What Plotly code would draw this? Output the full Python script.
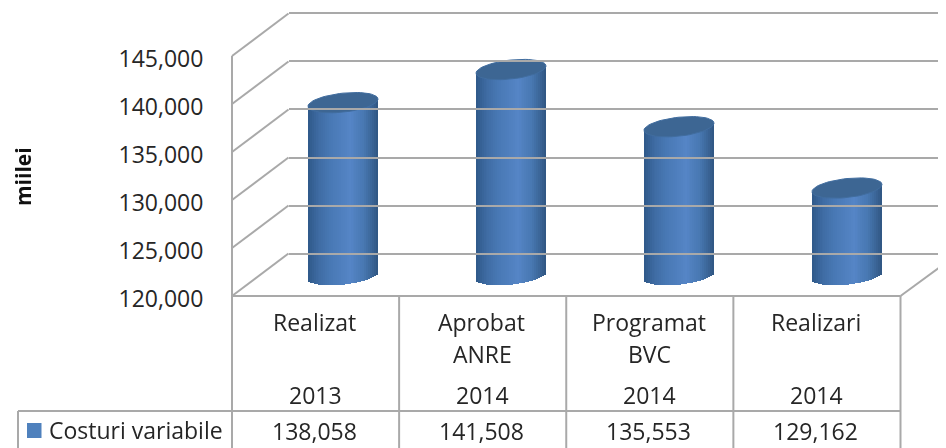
import math
import plotly.graph_objects as go

W, H = 946, 448
PAGE = 8  # default page margin around the figure
line1 = ["Realizat", "Aprobat", "Programat", "Realizari"]
line2 = ["", "ANRE", "BVC", ""]
years = ["2013", "2014", "2014", "2014"]
values = [138058, 141508, 135553, 129162]
series_name = "Costuri variabile"
axis_title = "miilei"
y_ticks = [120000, 125000, 130000, 135000, 140000, 145000]

GREY = "#a9a9a9"
TXT = "#262626"
FONT = "Open Sans"
FS = 23
FW, FH = W - PAGE, H - PAGE

def px(x): return (x - PAGE) / FW
def py(y): return 1 - (y - PAGE) / FH

PX_PER_UNIT = (296 - 56) / 25000
COL_W = (900.5 - 232) / 4
ymin, ymax = y_ticks[0], y_ticks[-1]

# colour ramp for the cylinder shading
RAMP = [(0, (46, 88, 136)), (.12, (60, 104, 158)), (.32, (72, 120, 180)), (.6, (85, 133, 198)),
        (.8, (72, 120, 178)), (.92, (58, 100, 150)), (1, (47, 86, 130))]
def ramp(t):
    for (a, ca), (b, cb) in zip(RAMP, RAMP[1:]):
        if t <= b:
            f = (t - a) / (b - a)
            return "rgb(%d,%d,%d)" % tuple(round(p + (q - p) * f) for p, q in zip(ca, cb))
    return "rgb(47,86,130)"

fig = go.Figure()

# front plane: real value axis
fig.add_trace(go.Scatter(x=list(range(4)), y=values, mode="markers", opacity=0, xaxis="x", yaxis="y",
                         showlegend=False, hoverinfo="skip"))
# back wall: gridlines
fig.add_trace(go.Scatter(x=list(range(4)), y=values, mode="markers", opacity=0, xaxis="x3", yaxis="y3",
                         showlegend=False, hoverinfo="skip"))

# middle plane: full-canvas axes holding the cylinders
CX0, BASE_PX = 343.0, 276.0
K = 1 / PX_PER_UNIT
x_unit = 1 / 168.0
x2_range = [(PAGE - CX0) * x_unit, (W - CX0) * x_unit]
y2_range = [ymin + (BASE_PX - H) * K, ymin + (BASE_PX - PAGE) * K]

RX, RY_TOP, RY_BOTTOM, TILT = 35.0, 9.5, 8.6, 3.6
N = 36
sw = 2 * RX / N
xs, base, hts, cols, widths = [], [], [], [], []
for i, v in enumerate(values):
    for k in range(N):
        u = -1 + (k + .5) * 2 / N
        low = (-TILT * u + RY_BOTTOM * math.sqrt(1 - u * u)) * K
        b = ymin - low
        top = v + TILT * u * K
        xs.append(i + u * RX * x_unit)
        base.append(b)
        hts.append(top - b)
        cols.append(ramp((u + 1) / 2))
        widths.append((sw + .4) * x_unit)
fig.add_trace(go.Bar(x=xs, y=hts, base=base, width=widths, marker=dict(color=cols, line_width=0),
                     xaxis="x2", yaxis="y2", showlegend=False, hoverinfo="skip"))

for i, v in enumerate(values):
    ex, ey = [], []
    for j in range(61):
        t = 2 * math.pi * j / 60
        ex.append(i + RX * math.cos(t) * x_unit)
        ey.append(v + (TILT * math.cos(t) + RY_TOP * math.sin(t)) * K)
    fig.add_trace(go.Scatter(x=ex, y=ey, mode="lines", fill="toself", fillcolor="#3d6693",
                             line=dict(color="#416d9f", width=1), xaxis="x2", yaxis="y2",
                             showlegend=False, hoverinfo="skip"))

shapes = []
def seg(x0, y0, x1, y1):
    shapes.append(dict(type="line", xref="paper", yref="paper", x0=px(x0), y0=py(y0), x1=px(x1), y1=py(y1),
                       line=dict(color=GREY, width=2), layer="below"))

# side wall and floor
for tv in y_ticks:
    fy = 296 - (tv - ymin) * PX_PER_UNIT
    seg(232, fy, 288.5, fy - 42.5)
seg(900.5, 296, 946, 262.5)
# data table
for k in range(5):
    seg(232 + k * COL_W, 296, 232 + k * COL_W, H)
seg(232, 296, 900.5, 296)
seg(18, 411, 900.5, 411)
seg(18, 411, 18, H)
shapes.append(dict(type="rect", xref="paper", yref="paper", x0=px(27), x1=px(41.5), y0=py(438), y1=py(423),
                   fillcolor="#4f81bd", line_width=0))

ann = []
def text(x, y, s, **kw):
    ann.append(dict(xref="paper", yref="paper", x=px(x), y=py(y), text=s, showarrow=False,
                    font=dict(family=kw.pop("family", FONT), size=kw.pop("size", FS), color=TXT),
                    xanchor=kw.pop("xanchor", "center"), yanchor="middle", **kw))

for i in range(4):
    cx = 232 + (i + .5) * COL_W
    text(cx - 1, 322, line1[i])
    if line2[i]:
        text(cx, 354, line2[i])
    text(cx, 395, years[i])
    text(cx - 1, 431, f"{values[i]:,}")
text(47, 430, series_name, xanchor="left")
ann.append(dict(xref="paper", yref="paper", x=px(23), y=py(177), text="<b>%s</b>" % axis_title, textangle=-90,
                showarrow=False, font=dict(family=FONT, size=21, color="#111111"),
                xanchor="center", yanchor="middle"))

# back wall axis runs slightly past its end ticks so the first and last gridlines are drawn
PAD = 3
pad_u = PAD * K * (240 / 241)
hidden = dict(visible=False, showgrid=False, zeroline=False, fixedrange=True)
fig.update_layout(
    width=FW, height=FH, margin=dict(l=0, r=0, t=0, b=0, autoexpand=False), paper_bgcolor="white",
    plot_bgcolor="rgba(0,0,0,0)",
    barmode="overlay", bargap=0, showlegend=False, autosize=False,
    font=dict(family=FONT, size=FS, color=TXT),
    shapes=shapes, annotations=ann,
    xaxis=dict(domain=[px(232), px(900.5)], range=[-.5, 3.5], **hidden),
    yaxis=dict(domain=[py(296), py(56)], range=[ymin, ymax], tickvals=y_ticks, tickformat=",",
               showline=True, linecolor=GREY, linewidth=2, ticks="outside", ticklen=23,
               tickcolor="rgba(0,0,0,0)", showgrid=False, zeroline=False, ticklabelshift=3,
               anchor="free", position=px(232), tickfont=dict(family=FONT, size=FS, color=TXT)),
    xaxis2=dict(domain=[0, 1], range=x2_range, anchor="y2", **hidden),
    yaxis2=dict(domain=[0, 1], range=y2_range, anchor="x2", **hidden),
    xaxis3=dict(domain=[px(288.5), 1], range=[0, 3], anchor="y3", **hidden),
    yaxis3=dict(domain=[py(254 + PAD), py(13 - PAD)], range=[ymin - pad_u, ymax + pad_u], tickvals=y_ticks,
                anchor="x3", showgrid=True, gridcolor=GREY, gridwidth=2, zeroline=False, showticklabels=False,
                ticks="", showline=False, fixedrange=True),
)
fig.write_html("out.html")
